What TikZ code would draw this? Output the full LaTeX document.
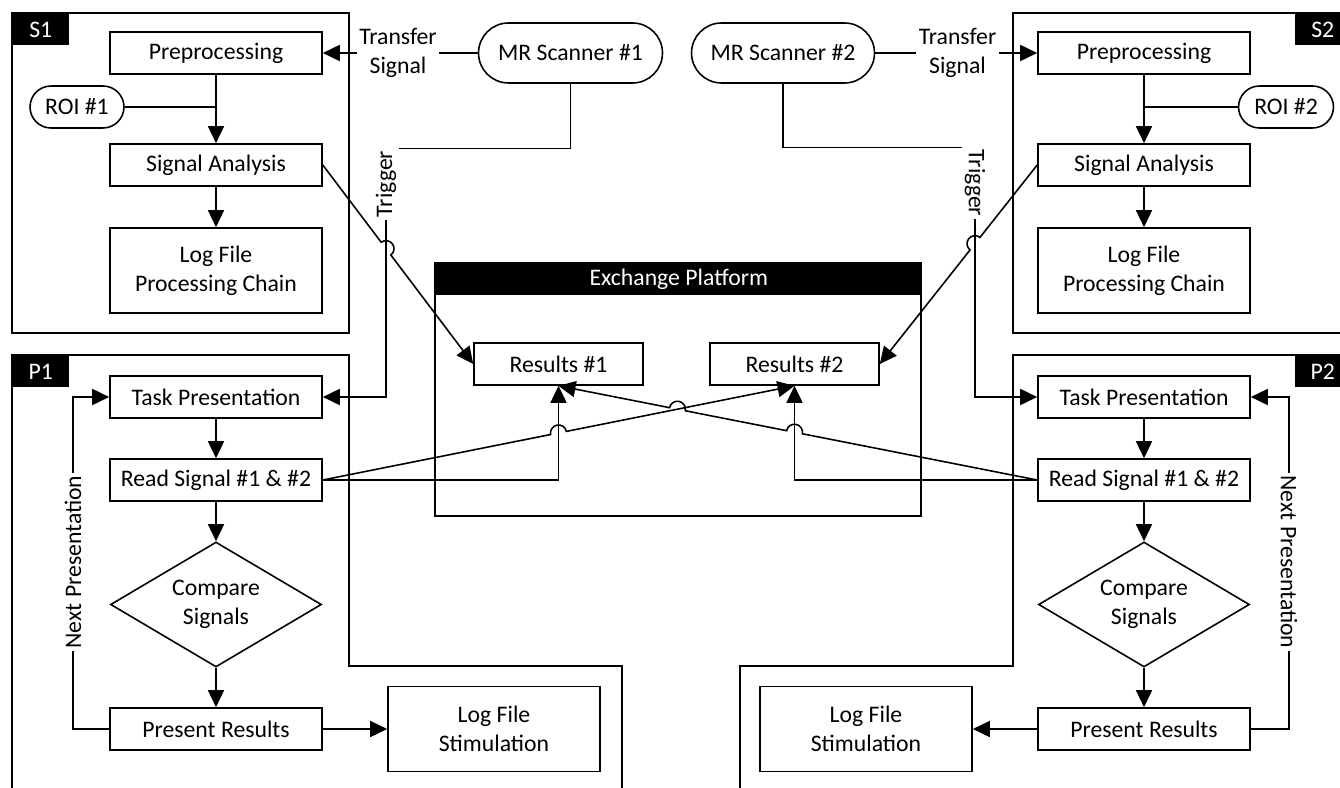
\documentclass[tikz,border=0pt]{standalone}
\usepackage{fontspec}
\setmainfont{Carlito}
\usetikzlibrary{arrows.meta, shapes.geometric, shapes.misc, calc}

\begin{document}
\begin{tikzpicture}[x=0.2mm, y=0.2mm, line width=0.9pt,
    font=\fontsize{13.5pt}{16.5pt}\selectfont,
    box/.style={draw, fill=white, minimum width=4.24cm, minimum height=0.84cm,
                align=center, inner sep=2pt},
    tall/.style={box, minimum height=1.7cm},
    pill/.style={draw, fill=white, rounded rectangle, minimum height=0.84cm,
                 inner sep=2pt},
    decision/.style={draw, fill=white, diamond, shape aspect=1.7, inner sep=0pt,
                     minimum width=4.22cm, minimum height=2.5cm, align=center},
    tag/.style={fill=black, text=white, anchor=north west, inner sep=0pt,
                minimum width=1.12cm, minimum height=0.63cm},
    lbl/.style={inner sep=1pt, align=center},
    flow/.style={-{Triangle[length=3.4mm, width=3.2mm]}}
  ]
  \useasboundingbox (0,0) rectangle (1340,-788);

  % frames
  \draw (12,-13) rectangle (349,-333);
  \draw (1013,-13) rectangle (1350,-333);
  \draw (12,-800) |- (349,-355) |- (622,-666) -- (622,-800);
  \draw (1350,-355) -| (1013,-666) -| (740,-800);
  \draw (435,-263) rectangle (921,-516);

  \node[tag] (s1) at (12,-13) {S1};
  \node[tag] (s2) at (1294,-13) {S2};
  \node[tag] (p1) at (12,-355) {P1};
  \node[tag] (p2) at (1294,-355) {P2};
  \node[tag, minimum width=9.72cm] (xp) at (435,-263) {Exchange Platform};

  % scanners
  \node[pill, minimum width=3.82cm, minimum height=1.2cm] (mr1) at (570.5,-53) {MR Scanner \#1};
  \node[pill, minimum width=3.8cm, minimum height=1.2cm] (mr2) at (783,-53) {MR Scanner \#2};

  % S1 / S2
  \node[box] (pre1) at (216,-53) {Preprocessing};
  \node[pill, minimum width=2.02cm] (roi1) at (77,-107) {ROI \#1};
  \node[box] (ana1) at (216,-165) {Signal Analysis};
  \node[tall] (log1) at (216,-270.5) {Log File\\Processing Chain};

  \node[box] (pre2) at (1144,-53) {Preprocessing};
  \node[pill, minimum width=2.04cm] (roi2) at (1286,-107) {ROI \#2};
  \node[box] (ana2) at (1144,-165) {Signal Analysis};
  \node[tall] (log2) at (1144,-270.5) {Log File\\Processing Chain};

  % exchange platform
  \node[box, minimum width=3.38cm] (res1) at (558.5,-364) {Results \#1};
  \node[box, minimum width=3.38cm] (res2) at (794.5,-364) {Results \#2};

  % P1 / P2
  \node[box] (task1) at (216,-397) {Task Presentation};
  \node[box] (read1) at (216,-480) {Read Signal \#1 \& \#2};
  \node[decision] (cmp1) at (216,-604.5) {Compare\\Signals};
  \node[box] (pres1) at (216,-729) {Present Results};
  \node[tall] (logs1) at (494,-729) {Log File\\Stimulation};

  \node[box] (task2) at (1144,-397) {Task Presentation};
  \node[box] (read2) at (1144,-480) {Read Signal \#1 \& \#2};
  \node[decision] (cmp2) at (1144,-604.5) {Compare\\Signals};
  \node[box] (pres2) at (1144,-729) {Present Results};
  \node[tall] (logs2) at (866,-729) {Log File\\Stimulation};

  % line labels
  \node[lbl] (tr1) at (398,-53) {Transfer\\Signal};
  \node[lbl] (tr2) at (957.5,-53) {Transfer\\Signal};
  \node[lbl, rotate=90] (trg1) at (386,-184) {Trigger};
  \node[lbl, rotate=-90] (trg2) at (975,-183) {Trigger};
  \node[lbl, rotate=90] (np1) at (73,-562) {Next Presentation};
  \node[lbl, rotate=-90] (np2) at (1289,-562) {Next Presentation};

  % S1 chain
  \draw (mr1.west) -- (tr1.east);
  \draw[flow] (tr1.west) -- (pre1.east);
  \draw[flow] (pre1) -- (ana1);
  \draw (roi1.east) -- (roi1 -| pre1.south);
  \draw[flow] (ana1) -- (log1);

  % S2 chain
  \draw (mr2.east) -- (tr2.west);
  \draw[flow] (tr2.east) -- (pre2.west);
  \draw[flow] (pre2) -- (ana2);
  \draw (roi2.west) -- (roi2 -| pre2.south);
  \draw[flow] (ana2) -- (log2);

  % triggers
  \draw (mr1.south) |- (trg1.south east);
  \draw[flow] (trg1.west) |- (task1.east);
  \draw (mr2.south) |- (trg2.south west);
  \draw[flow] (trg2.east) |- (task2.west);

  % P1 chain
  \draw[flow] (task1) -- (read1);
  \draw[flow] (read1) -- (cmp1);
  \draw[flow] (cmp1) -- (pres1);
  \draw[flow] (pres1) -- (logs1);
  \draw (pres1.west) -| (np1.west);
  \draw[flow] (np1.east) |- (task1.west);

  % P2 chain
  \draw[flow] (task2) -- (read2);
  \draw[flow] (read2) -- (cmp2);
  \draw[flow] (cmp2) -- (pres2);
  \draw[flow] (pres2) -- (logs2);
  \draw (pres2.east) -| (np2.east);
  \draw[flow] (np2.west) |- (task2.east);

  % results in and out, with line hops
  \draw[flow] (read1.east) -| (res1.south);
  \draw[flow] (read2.west) -| (res2.south);

  \coordinate (h1) at (intersection cs: first line={(ana1.east)--(res1.west)},
                       second line={(trg1.west)--(task1.east -| trg1.west)});
  \coordinate (h2) at (intersection cs: first line={(ana2.west)--(res2.east)},
                       second line={(trg2.east)--(task2.west -| trg2.east)});
  \coordinate (h3) at (intersection cs: first line={(read1.east)--(res2.south)},
                       second line={(res1.south)--(read1.east -| res1.south)});
  \coordinate (h4) at (intersection cs: first line={(read2.west)--(res1.south)},
                       second line={(res2.south)--(read2.west -| res2.south)});
  \coordinate (h5) at (intersection cs: first line={(read2.west)--(res1.south)},
                       second line={(read1.east)--(res2.south)});

  \draw[flow] let \p1=($(ana1.east)-(h1)$), \n1={atan2(\y1,\x1)} in
    (ana1.east) -- ($(h1)!1.6mm!(ana1.east)$)
    arc[start angle=\n1, end angle=\n1-180, radius=1.6mm] -- (res1.west);
  \draw[flow] let \p1=($(ana2.west)-(h2)$), \n1={atan2(\y1,\x1)} in
    (ana2.west) -- ($(h2)!1.6mm!(ana2.west)$)
    arc[start angle=\n1, end angle=\n1+180, radius=1.6mm] -- (res2.east);
  \draw[flow] let \p1=($(read1.east)-(h3)$), \n1={atan2(\y1,\x1)} in
    (read1.east) -- ($(h3)!1.6mm!(read1.east)$)
    arc[start angle=\n1, end angle=\n1-180, radius=1.6mm] -- (res2.south);
  \draw[flow] let \p1=($(read2.west)-(h4)$), \n1={atan2(\y1,\x1)} in
    (read2.west) -- ($(h4)!1.6mm!(read2.west)$)
    arc[start angle=\n1, end angle=\n1+180, radius=1.6mm]
    -- ($(h5)!1.6mm!(read2.west)$)
    arc[start angle=\n1, end angle=\n1+180, radius=1.6mm] -- (res1.south);
\end{tikzpicture}
\end{document}
